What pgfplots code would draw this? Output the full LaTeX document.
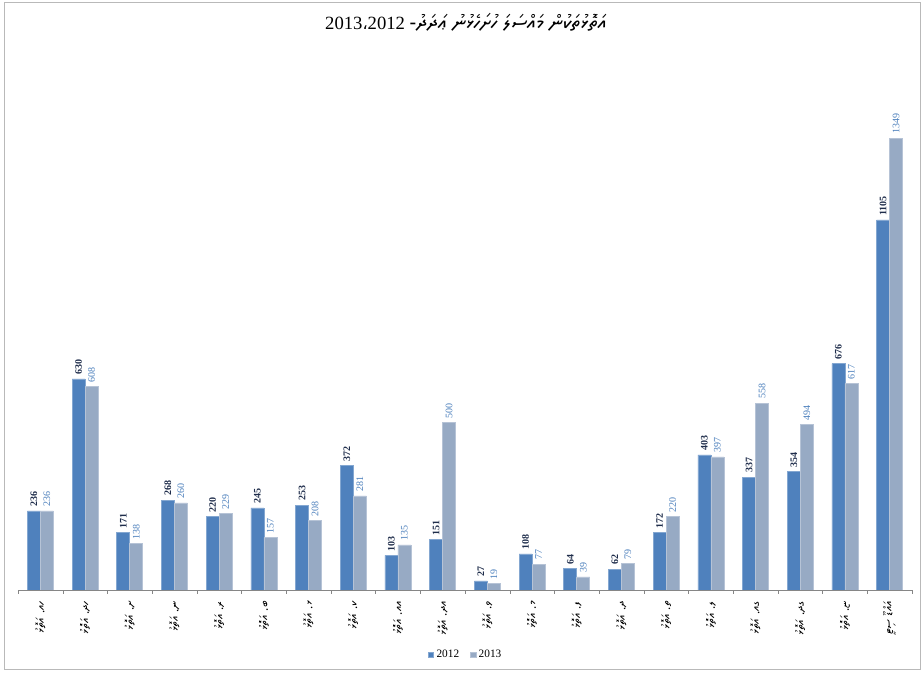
\documentclass[border=0pt]{standalone}
\usepackage{pgfplots}
\pgfplotsset{compat=1.18}
\usepackage{fontspec}
\setmainfont{Liberation Serif}
\newfontfamily\thaana[Script=Thaana]{Noto Sans Thaana}
\newfontfamily\arabicfont[Script=Arabic]{DejaVu Sans}
\TeXXeTstate=1
\definecolor{bara}{HTML}{4F81BD}
\definecolor{barb}{HTML}{97AAC4}
\definecolor{laba}{HTML}{1F2D4B}
\definecolor{labb}{HTML}{4A7EBB}
\definecolor{axisgray}{HTML}{868686}
\newcommand{\rtl}[1]{{\thaana\beginR #1\endR}}

\begin{document}
\begin{tikzpicture}[x=1pt,y=1pt]
\path (0,0) rectangle (693,504.75);
\draw[gray!55] (3,3) rectangle (690,503);
\node[font=\fontsize{14}{16}\selectfont, inner sep=0pt] at (349.5,488)
  {2013{\arabicfont\fontsize{12}{14}\selectfont ،}2012 {\fontsize{15.5}{17}\selectfont\rtl{އަތޮޅުތަކުން މައްސަލަ ހުށަހެޅުނު ޢަދަދު-}}};
\begin{axis}[
  at={(13.5pt,62.25pt)}, anchor=south west,
  scale only axis, width=670.5pt, height=402pt,
  ybar=0pt, bar width=9.75pt,
  xmin=-0.5, xmax=19.5, ymin=0, ymax=1600,
  hide y axis, axis x line*=bottom,
  x axis line style={axisgray, -},
  xtick={0,...,19}, major x tick style={draw=none},
  minor xtick={-0.5,0.5,...,19.5}, minor tick length=3pt, tick align=outside,
  minor x tick style={axisgray},
  xticklabels={
    \rtl{ހއ. އަތޮޅު}, \rtl{ހދ. އަތޮޅު}, \rtl{ށ. އަތޮޅު}, \rtl{ނ. އަތޮޅު},
    \rtl{ރ. އަތޮޅު}, \rtl{ބ. އަތޮޅު}, \rtl{ޅ. އަތޮޅު}, \rtl{ކ. އަތޮޅު},
    \rtl{އއ. އަތޮޅު}, \rtl{އދ. އަތޮޅު}, \rtl{ވ. އަތޮޅު}, \rtl{މ. އަތޮޅު},
    \rtl{ފ. އަތޮޅު}, \rtl{ދ. އަތޮޅު}, \rtl{ތ. އަތޮޅު}, \rtl{ލ. އަތޮޅު},
    \rtl{ގއ. އަތޮޅު}, \rtl{ގދ. އަތޮޅު}, \rtl{ޏ. އަތޮޅު}, \rtl{އައްޑޫ ސިޓީ}},
  xticklabel style={rotate=90, anchor=east, inner sep=4pt, font=\fontsize{9}{10}\selectfont},
  /pgf/number format/.cd, 1000 sep={}, assume math mode=true, /pgfplots/.cd,
  nodes near coords,
  every node near coord/.append style={rotate=90, anchor=west, inner sep=3pt},
  legend style={at={(0.501,-0.121)}, anchor=center, draw=none, fill=none,
    legend columns=2, font=\fontsize{8.5}{10}\selectfont,
    /tikz/every even column/.append style={column sep=6pt}},
  legend image code/.code={\fill[#1] (0pt,-2.1pt) rectangle (4.2pt,2.1pt);},
]
\addplot[fill=bara, draw=bara!70!white,
  every node near coord/.append style={text=laba, font=\bfseries\fontsize{7.5}{8}\selectfont}]
  coordinates {
  (0,236) (1,630) (2,171) (3,268) (4,220) (5,245) (6,253) (7,372) (8,103) (9,151)
  (10,27) (11,108) (12,64) (13,62) (14,172) (15,403) (16,337) (17,354) (18,676) (19,1105)
};
\addplot[fill=barb, draw=barb!70!white,
  every node near coord/.append style={text=labb, font=\fontsize{7.5}{8}\selectfont}]
  coordinates {
  (0,236) (1,608) (2,138) (3,260) (4,229) (5,157) (6,208) (7,281) (8,135) (9,500)
  (10,19) (11,77) (12,39) (13,79) (14,220) (15,397) (16,558) (17,494) (18,617) (19,1349)
};
\legend{2012,2013}
\end{axis}
\end{tikzpicture}
\end{document}
